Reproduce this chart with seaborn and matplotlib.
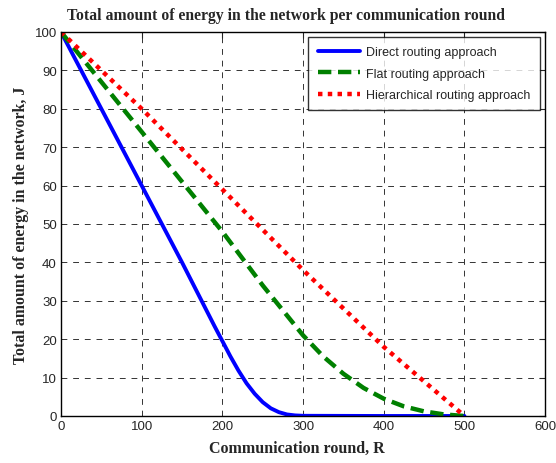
import matplotlib
matplotlib.use("Agg")
import matplotlib.pyplot as plt
import seaborn as sns
import pandas as pd

# values
direct_x = [0, 50, 100, 150, 190, 200, 210, 220, 230, 240, 250, 260, 270, 280, 290, 300, 400, 500]
direct_y = [100, 80, 60, 40, 23.5, 19.5, 15.5, 11.8, 8.5, 5.8, 3.6, 2.0, 1.0, 0.4, 0.15, 0.05, 0, 0]
flat_x = [0, 50, 100, 150, 200, 250, 300, 325, 350, 375, 400, 425, 450, 475, 500]
flat_y = [100, 87, 74, 61, 48, 34, 21, 15.5, 11, 7.3, 4.5, 2.5, 1.2, 0.4, 0]
hier_x = [0, 100, 200, 300, 400, 500]
hier_y = [100, 80, 59, 38, 18, 0]
labels = ["Direct routing approach", "Flat routing approach", "Hierarchical routing approach"]

sns.set_style("white")
plt.rcParams["font.family"] = ["Liberation Sans", "DejaVu Sans"]

fig = plt.figure(figsize=(5.56, 4.64), dpi=100)
ax = fig.add_axes([0.1097, 0.1013, 0.8708, 0.8276])

df_d = pd.DataFrame({"x": direct_x, "y": direct_y})
df_f = pd.DataFrame({"x": flat_x, "y": flat_y})
df_h = pd.DataFrame({"x": hier_x, "y": hier_y})

sns.lineplot(data=df_d, x="x", y="y", ax=ax, color="#0000ff", lw=2.8, label=labels[0])
sns.lineplot(data=df_f, x="x", y="y", ax=ax, color="#008000", lw=3.2, linestyle=(0, (3, 1.5)), label=labels[1])
sns.lineplot(data=df_h, x="x", y="y", ax=ax, color="#ff0000", lw=3.2, linestyle=(0, (1, 1.2)), label=labels[2])

ax.set_xlim(0, 600)
ax.set_ylim(0, 100)
ax.set_xticks(range(0, 601, 100))
ax.set_yticks(range(0, 101, 10))
ax.grid(True, color="black", linestyle=(0, (6, 6)), linewidth=0.7, alpha=0.8)
ax.tick_params(direction="in", top=True, right=True, length=4, labelsize=9.5, pad=3)
for s in ax.spines.values():
    s.set_color("black")
    s.set_linewidth(1.0)

serif = ["Liberation Serif", "DejaVu Serif"]
ax.set_title("Total amount of energy in the network per communication round",
             fontsize=11.3, fontweight="bold", family=serif, pad=9, x=0.465)
ax.set_xlabel("Communication round, R", fontsize=11.5, fontweight="bold", family=serif, labelpad=5)
ax.xaxis.set_label_coords(0.488, -0.063)
ax.set_ylabel("Total amount of energy in the network, J", fontsize=11.4, fontweight="bold", family=serif, labelpad=4)

leg = ax.legend(loc="upper right", fontsize=9, frameon=True, fancybox=False,
                borderaxespad=0.4, handlelength=3.4, handletextpad=0.5,
                labelspacing=0.75, borderpad=0.75)
leg.get_frame().set_edgecolor("black")
leg.get_frame().set_linewidth(1.0)

fig.savefig("out.png", dpi=100)
